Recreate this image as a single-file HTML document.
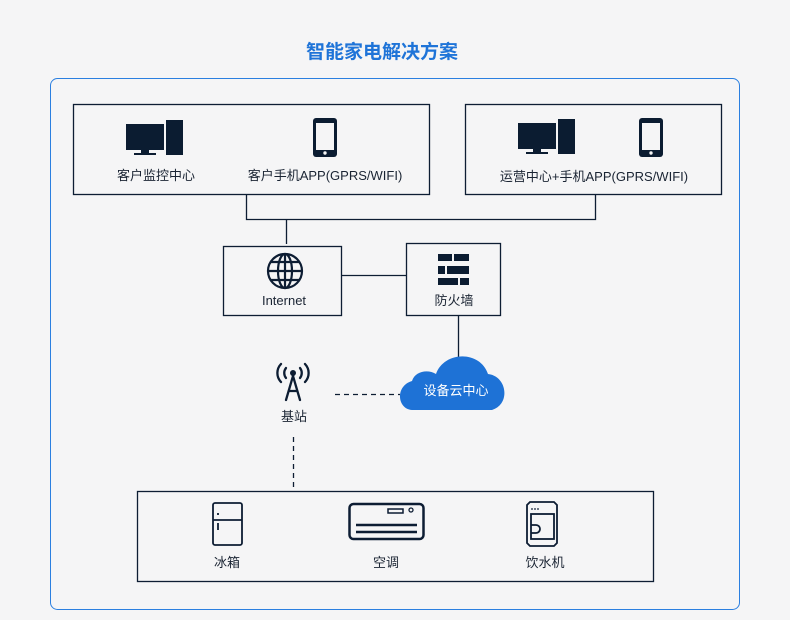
<!DOCTYPE html>
<html><head><meta charset="utf-8"><style>
html,body{margin:0;padding:0;background:#f5f5f6;}
svg{display:block;font-family:"Liberation Sans","Noto Sans CJK SC",sans-serif;}
</style></head><body>
<svg width="790" height="620" viewBox="0 0 790 620" xmlns="http://www.w3.org/2000/svg">
<rect width="790" height="620" fill="#f5f5f6"/>
<text x="382" y="58" text-anchor="middle" font-size="19" font-weight="bold" fill="#1f74d8">智能家电解决方案</text>
<rect x="50.5" y="78.5" width="689" height="531" rx="7" fill="none" stroke="#2b7fe0" stroke-width="1"/>
<g fill="none" stroke="#0d1d33" stroke-width="1.3">
<rect x="73.5" y="104.5" width="356" height="90"/>
<rect x="465.5" y="104.5" width="256" height="90"/>
<polyline points="246.5,194 246.5,219.5 595.5,219.5 595.5,194"/>
<line x1="286.5" y1="219" x2="286.5" y2="244"/>
<rect x="223.5" y="246.5" width="118" height="69"/>
<rect x="406.5" y="243.5" width="94" height="72"/>
<line x1="341" y1="275.5" x2="406" y2="275.5"/>
<line x1="458.5" y1="315" x2="458.5" y2="358"/>
<rect x="137.5" y="491.5" width="516" height="90"/>
</g>
<g stroke="#0d1d33" stroke-width="1.3" stroke-dasharray="5,4" fill="none">
<line x1="335" y1="394.5" x2="400" y2="394.5"/>
<line x1="293.5" y1="437" x2="293.5" y2="491"/>
</g>
<g fill="#0b1c31">
<rect x="126" y="124" width="38" height="26"/><rect x="141" y="150" width="8" height="3"/><rect x="134" y="153" width="22" height="2"/><rect x="166" y="120" width="17" height="35"/>
<rect x="313" y="118" width="24" height="39" rx="3"/>
<rect x="518" y="123" width="38" height="26"/><rect x="533" y="149" width="8" height="3"/><rect x="526" y="152" width="22" height="2"/><rect x="558" y="119" width="17" height="35"/>
<rect x="639" y="118" width="24" height="39" rx="3"/>
<rect x="438" y="254" width="14" height="7"/><rect x="454" y="254" width="15" height="7"/>
<rect x="438" y="266" width="7" height="8"/><rect x="447" y="266" width="22" height="8"/>
<rect x="438" y="278" width="20" height="7"/><rect x="460" y="278" width="9" height="7"/>
</g>
<g fill="#f5f5f6">
<rect x="316" y="123" width="18" height="27"/><rect x="642" y="123" width="18" height="27"/>
</g>
<circle cx="325" cy="153" r="1.7" fill="#f5f5f6"/><circle cx="651" cy="153" r="1.7" fill="#f5f5f6"/>
<g fill="none" stroke="#0d1d33" stroke-width="2.2">
<circle cx="285" cy="271" r="17"/>
<ellipse cx="285" cy="271" rx="7" ry="17"/>
<line x1="285" y1="254" x2="285" y2="288"/>
<line x1="268" y1="271" x2="302" y2="271"/>
<line x1="271" y1="262" x2="299" y2="262"/>
<line x1="271" y1="280" x2="299" y2="280"/>
</g>
<g font-size="13" fill="#1a2433" text-anchor="middle">
<text x="156" y="180">客户监控中心</text>
<text x="325" y="180">客户手机APP(GPRS/WIFI)</text>
<text x="594" y="181">运营中心+手机APP(GPRS/WIFI)</text>
<text x="284" y="305">Internet</text>
<text x="454" y="305">防火墙</text>
<text x="294" y="421">基站</text>
<text x="227" y="567">冰箱</text>
<text x="386" y="567">空调</text>
<text x="545" y="567">饮水机</text>
</g>
<g fill="none" stroke="#0d1d33" stroke-width="2.3" stroke-linecap="round">
<path d="M286 400 L293 376 L300 400 M289 391 L297 391"/>
<path d="M286 368 a8 8 0 0 0 0 10 M300 368 a8 8 0 0 1 0 10"/>
<path d="M281 364 a13 13 0 0 0 0 18 M305 364 a13 13 0 0 1 0 18"/>
</g>
<circle cx="293" cy="373" r="3" fill="#0d1d33"/>
<path d="M412 410 C397 409 395 386 412 381 C415 371 428 369 436 374 C444 351 480 350 488 374 C507 376 511 404 492 410 Z" fill="#1e72d6"/>
<text x="456" y="395" text-anchor="middle" font-size="13" fill="#fff">设备云中心</text>
<g fill="none" stroke="#0d1d33" stroke-width="1.8">
<rect x="213" y="503" width="29" height="42" rx="2"/><line x1="213" y1="520" x2="242" y2="520"/>
<line x1="218" y1="513" x2="218" y2="515"/><line x1="218" y1="523" x2="218" y2="530"/>
</g>
<g fill="none" stroke="#0d1d33" stroke-width="2.5">
<rect x="349.5" y="504" width="74" height="35" rx="4"/>
<line x1="356" y1="525" x2="417" y2="525"/><line x1="356" y1="532" x2="417" y2="532"/>
</g>
<rect x="388" y="509" width="15" height="4" fill="none" stroke="#0d1d33" stroke-width="1.5"/>
<circle cx="411" cy="510" r="2" fill="none" stroke="#0d1d33" stroke-width="1.3"/>
<g fill="none" stroke="#0d1d33" stroke-width="1.8">
<path d="M530 502 h24 l3 3 v38 l-3 3 h-24 l-3 -3 v-38 z"/>
<rect x="531" y="514" width="23" height="25"/>
<path d="M531 525 h5 a4 4 0 0 1 0 8 h-5"/>
</g>
<g fill="#0d1d33"><circle cx="532" cy="509" r="0.9"/><circle cx="535" cy="509" r="0.9"/><circle cx="538" cy="509" r="0.9"/></g>
</svg>
</body></html>
